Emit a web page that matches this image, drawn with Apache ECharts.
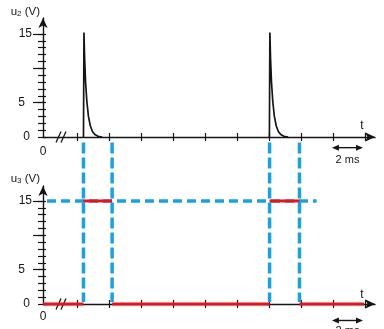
<!DOCTYPE html>
<html><head><meta charset="utf-8">
<script src="https://cdn.jsdelivr.net/npm/echarts@6/dist/echarts.min.js"></script>
<style>html,body{margin:0;padding:0;background:#fff}#c{width:384px;height:329px}</style>
</head><body><div id="c"></div>
<script>
// ---- data (time t in ms, voltages in V) ----
const xTickValues = [2.125, 4.125, 6.125, 8.125, 10.125, 12.125, 14.125, 16.125, 18.125, 20.125];
const xLabelValues = [0];
const yTickValues = [0,1,2,3,4,5,6,7,8,9,10,11,12,13,14,15];
const yMajorTicks = [5, 10, 15];
const yLabelValues = [0, 5, 15];
const u2Spike1 = [[2.53,0],[2.56,15.2],[2.60,11.5],[2.66,8.0],[2.74,5.2],[2.84,3.0],[2.96,1.6],[3.09,0.8],[3.24,0.35],[3.44,0.1],[3.70,0]];
const u2Spike2 = [[14.15,0],[14.18,15.2],[14.22,11.5],[14.28,8.0],[14.36,5.2],[14.46,3.0],[14.58,1.6],[14.71,0.8],[14.86,0.35],[15.06,0.1],[15.32,0]];
const u3Segments = [[0,2.53,0],[2.53,4.32,15],[4.32,14.16,0],[14.16,16.03,15],[16.03,20.06,0]];
const guideTimes = [2.53, 4.32, 14.16, 16.03];
const guideLevel = 15;
const guideSpan = [0.25, 17.1];
const scaleBar = [18.06, 20.0];
const scaleBarText = '2 ms';
const axisNames = [['u','2'], ['u','3']];

const X_MAX = 20.75;
const Y_MAX = [17.32, 17.18];
const FONT = "'Liberation Sans', Arial, sans-serif";
const INK = '#151515';
const BLUE = '#1d9fe4';
const RED = '#e8141c';

const chart = echarts.init(document.getElementById('c'), null, {renderer: 'canvas'});

const grids = [
  {left: 43, right: 9, top: 18, bottom: 192},
  {left: 43, right: 9, top: 186, bottom: 25}
];

const xAxes = [], yAxes = [];
grids.forEach((g, gi) => {
  xAxes.push({
    type: 'value', gridIndex: gi, min: 0, max: X_MAX, position: 'bottom',
    axisLine: {show: true, onZero: false, symbol: ['none', 'arrow'], symbolSize: [7, 10], lineStyle: {color: INK, width: 1.4}},
    axisTick: {show: true, customValues: xTickValues, length: 4, lineStyle: {color: INK, width: 1.2}},
    axisLabel: {show: true, customValues: xLabelValues, margin: gi === 0 ? 9 : 7, color: INK, fontSize: 12, fontFamily: FONT},
    splitLine: {show: false},
    name: 't', nameLocation: 'end', nameGap: -13,
    nameTextStyle: {color: INK, fontSize: 12, fontFamily: FONT, align: 'center', verticalAlign: 'bottom', padding: [0, 0, gi === 0 ? 5 : 3, 0]}
  });
  xAxes.push({
    type: 'value', gridIndex: gi, min: 0, max: X_MAX, position: 'bottom',
    axisLine: {show: false, onZero: false},
    axisTick: {show: true, inside: true, customValues: xTickValues, length: 4, lineStyle: {color: INK, width: 1.2}},
    axisLabel: {show: false}, splitLine: {show: false}
  });
  const nm = axisNames[gi];
  yAxes.push({
    type: 'value', gridIndex: gi, min: 0, max: Y_MAX[gi], position: 'left',
    axisLine: {show: true, onZero: false, symbol: ['none', 'arrow'], symbolSize: [7, 10], lineStyle: {color: INK, width: 1.4}},
    axisTick: {show: true, customValues: yTickValues, length: 5, lineStyle: {color: INK, width: 1.2}},
    axisLabel: {
      show: true, customValues: yLabelValues, margin: 11, color: INK, fontSize: 12, fontFamily: FONT,
      formatter: v => v === 5 ? '{p5|5}' : v === 0 ? '{p0|0}' : '{n|' + v + '}',
      rich: {
        n: {color: INK, fontSize: 12, fontFamily: FONT},
        p5: {color: INK, fontSize: 12, fontFamily: FONT, padding: [0, 7, 0, 0]},
        p0: {color: INK, fontSize: 12, fontFamily: FONT, padding: [0, 2, 0, 0]}
      }
    },
    splitLine: {show: false},
    name: '{a|' + nm[0] + '}{s|' + nm[1] + '}{a| (V)}', nameLocation: 'end', nameGap: gi === 0 ? 0 : 1,
    nameTextStyle: {
      align: 'right', verticalAlign: 'bottom', padding: [0, 3, 0, 0],
      rich: {
        a: {color: INK, fontSize: 11.5, fontFamily: FONT},
        s: {color: INK, fontSize: 8, fontFamily: FONT, verticalAlign: 'bottom', padding: [3, 0, 0, 0]}
      }
    }
  });
  yAxes.push({
    type: 'value', gridIndex: gi, min: 0, max: Y_MAX[gi], position: 'left',
    axisLine: {show: false, onZero: false},
    axisTick: {show: true, inside: true, customValues: yTickValues, length: 3, lineStyle: {color: INK, width: 1.2}},
    axisLabel: {show: false}, splitLine: {show: false}
  });
  yAxes.push({
    type: 'value', gridIndex: gi, min: 0, max: Y_MAX[gi], position: 'left',
    axisLine: {show: false, onZero: false},
    axisTick: {show: true, customValues: yMajorTicks, length: 10, lineStyle: {color: INK, width: 1.2}},
    axisLabel: {show: false}, splitLine: {show: false}
  });
});

const series = [];
series.push({
  type: 'line', xAxisIndex: 2, yAxisIndex: 3, data: [[guideSpan[0], guideLevel], [guideSpan[1], guideLevel]],
  symbol: 'none', lineStyle: {color: BLUE, width: 3.5, type: [9, 5]}, z: 1, animation: false
});
[u2Spike1, u2Spike2].forEach(d => series.push({
  type: 'line', xAxisIndex: 0, yAxisIndex: 0, data: d, showSymbol: false, symbol: 'none',
  lineStyle: {color: INK, width: 1.7}, z: 3, animation: false
}));
u3Segments.forEach(s => series.push({
  type: 'line', xAxisIndex: 2, yAxisIndex: 3, data: [[s[0], s[2]], [s[1], s[2]]],
  symbol: 'none', lineStyle: {color: RED, width: 3}, z: 10, animation: false, clip: false
}));

chart.setOption({
  animation: false,
  backgroundColor: '#fff',
  grid: grids,
  xAxis: xAxes,
  yAxis: yAxes,
  series: series
});

// decorations placed through the axes' own scales
const P = (gi, t, v) => chart.convertToPixel({xAxisIndex: gi * 2, yAxisIndex: gi * 3}, [t, v]);
const graphics = [];
guideTimes.forEach(t => {
  const a = P(0, t, -0.8), b = P(1, t, 0.3);
  graphics.push({type: 'line', shape: {x1: a[0], y1: a[1], x2: b[0], y2: b[1]},
    style: {stroke: BLUE, lineWidth: 3.5, lineDash: [11, 4]}, z: 1});
});
[0, 1].forEach(gi => {
  [0.97, 1.28].forEach(t => {
    const c = P(gi, t, 0);
    graphics.push({type: 'line', shape: {x1: c[0] - 2.5, y1: c[1] + 5.5, x2: c[0] + 2.5, y2: c[1] - 5.5},
      style: {stroke: INK, lineWidth: 1.3}, z: 10});
  });
  const yv = gi === 0 ? -1.55 : -2.4;
  const p1 = P(gi, scaleBar[0], yv), p2 = P(gi, scaleBar[1], yv);
  graphics.push({type: 'line', shape: {x1: p1[0] + 3, y1: p1[1], x2: p2[0] - 3, y2: p2[1]},
    style: {stroke: INK, lineWidth: 1.4}, z: 10});
  graphics.push({type: 'polygon', shape: {points: [[p1[0], p1[1]], [p1[0] + 7, p1[1] - 3], [p1[0] + 7, p1[1] + 3]]},
    style: {fill: INK}, z: 10});
  graphics.push({type: 'polygon', shape: {points: [[p2[0], p2[1]], [p2[0] - 7, p2[1] - 3], [p2[0] - 7, p2[1] + 3]]},
    style: {fill: INK}, z: 10});
  const tc = P(gi, (scaleBar[0] + scaleBar[1]) / 2, gi === 0 ? -3.35 : -3.95);
  graphics.push({type: 'text', x: tc[0], y: tc[1],
    style: {text: scaleBarText, fill: INK, font: '11px ' + FONT, textAlign: 'center', textVerticalAlign: 'middle'}, z: 10});
});
chart.setOption({graphic: {elements: graphics}});
</script>
</body></html>
